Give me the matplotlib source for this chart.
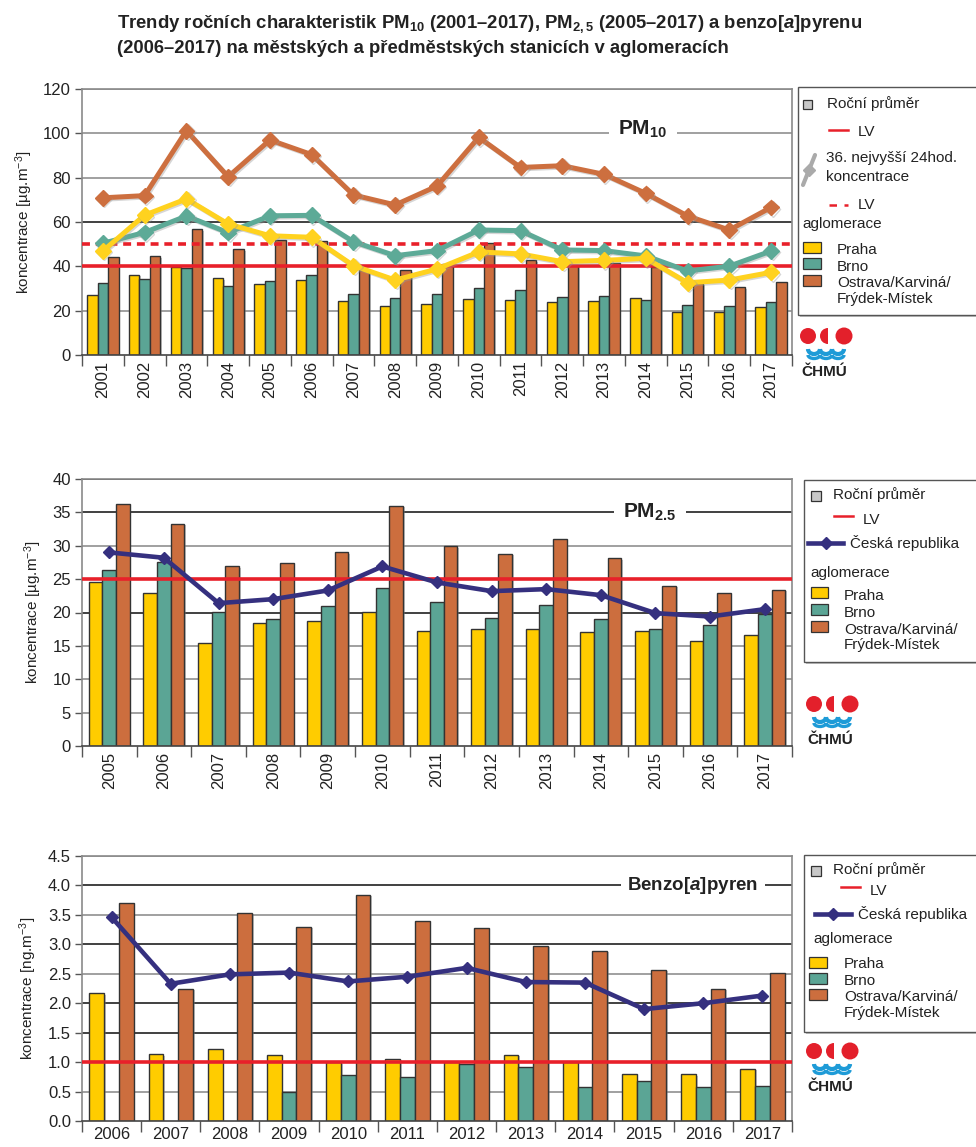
import numpy as np
import matplotlib
matplotlib.use("Agg")
import matplotlib.pyplot as plt
from matplotlib import font_manager
from matplotlib.patches import Rectangle, Circle, Wedge, Arc
from matplotlib.lines import Line2D
import matplotlib.patheffects as pe

# ---------------- data ----------------
years_pm10 = [str(y) for y in range(2001, 2018)]
pm10_avg_praha = [27, 36.2, 39.8, 34.6, 31.9, 34, 24.4, 22, 23, 25.1, 24.6, 24.1, 24.4, 25.6, 19.2, 19.2, 21.5]
pm10_avg_brno = [32.3, 34.1, 39.1, 31.1, 33.4, 35.9, 27.7, 25.9, 27.4, 30.2, 29.3, 26.2, 26.5, 24.6, 22.4, 21.9, 23.8]
pm10_avg_ostrava = [44, 44.5, 56.7, 47.7, 51.7, 51.5, 38.3, 38.2, 40.9, 50.4, 42.7, 40.6, 41.6, 39.8, 32.3, 30.5, 32.8]
pm10_36_praha = [46.9, 63.1, 70.4, 59.1, 53.8, 53.1, 40.3, 33.8, 38.8, 46.5, 45.6, 42.1, 42.7, 43.6, 32.6, 33.8, 37.3]
pm10_36_brno = [50.4, 55.3, 62.7, 55.2, 62.8, 63, 51.1, 44.8, 47.1, 56.4, 56.1, 47.4, 47.1, 44.7, 37.9, 40.1, 46.9]
pm10_36_ostrava = [70.9, 71.9, 101.2, 80.4, 97, 90.4, 72.2, 67.7, 76.2, 98.2, 84.6, 85.4, 81.5, 72.9, 62.7, 56.4, 66.6]
pm10_lv_annual = 40
pm10_lv_24h = 50

years_pm25 = [str(y) for y in range(2005, 2018)]
pm25_praha = [24.5, 22.9, 15.4, 18.4, 18.8, 20.1, 17.3, 17.5, 17.6, 17.1, 17.2, 15.8, 16.6]
pm25_brno = [26.3, 27.5, 20.1, 19.0, 20.9, 23.7, 21.5, 19.2, 21.1, 19.0, 17.6, 18.1, 19.8]
pm25_ostrava = [36.3, 33.3, 26.9, 27.4, 29.0, 36.0, 29.9, 28.8, 31.0, 28.1, 24.0, 22.9, 23.4]
pm25_cr = [29.0, 28.2, 21.4, 22.0, 23.3, 26.9, 24.5, 23.2, 23.5, 22.6, 19.9, 19.4, 20.5]
pm25_lv = 25

years_bap = [str(y) for y in range(2006, 2018)]
bap_praha = [2.17, 1.13, 1.22, 1.12, 1.0, 1.06, 1.0, 1.12, 1.0, 0.79, 0.79, 0.89]
bap_brno = [np.nan, np.nan, np.nan, 0.50, 0.78, 0.74, 0.97, 0.91, 0.57, 0.68, 0.58, 0.60]
bap_ostrava = [3.70, 2.24, 3.54, 3.30, 3.84, 3.40, 3.28, 2.97, 2.89, 2.57, 2.25, 2.52]
bap_cr = [3.46, 2.33, 2.49, 2.52, 2.37, 2.45, 2.60, 2.36, 2.35, 1.90, 2.00, 2.13]
bap_lv = 1.0

# ---------------- style ----------------
C_PRAHA = "#FFCC00"
C_BRNO = "#5BA595"
C_OSTR = "#CC6E3E"
C_PRAHA_L = "#FFD21F"
C_BRNO_L = "#5DAA97"
C_OSTR_L = "#CD6F3F"
C_CR = "#35307F"
C_RED = "#E8202A"
C_GRAY = "#A0A0A0"
C_DARK = "#404040"

def has_font(name):
    try:
        font_manager.findfont(font_manager.FontProperties(family=name), fallback_to_default=False)
        return True
    except Exception:
        return False

BASE = "Liberation Sans" if has_font("Liberation Sans") else "DejaVu Sans"
NARROW = "Liberation Sans Narrow" if has_font("Liberation Sans Narrow") else BASE

plt.rcParams["font.family"] = [BASE, "DejaVu Sans"]
plt.rcParams["mathtext.fontset"] = "custom"
plt.rcParams["mathtext.rm"] = BASE
plt.rcParams["mathtext.bf"] = BASE + ":bold"
plt.rcParams["mathtext.it"] = BASE + ":italic:bold"
plt.rcParams["axes.unicode_minus"] = False

W, H = 976, 1147
fig = plt.figure(figsize=(W / 100, H / 100), dpi=100)
fig.patch.set_facecolor("white")

def ax_px(left, top, right, bottom):
    return fig.add_axes([left / W, 1 - bottom / H, (right - left) / W, (bottom - top) / H])

bar_shadow = [pe.SimplePatchShadow(offset=(1.2, -1.0), shadow_rgbFace="#808080", alpha=0.45), pe.Normal()]

def setup_axis(ax, n, ymax, ystep, grid_dark, rotate, ylabel, fmt):
    ax.set_xlim(-0.5, n - 0.5)
    ax.set_ylim(0, ymax)
    ticks = np.arange(0, ymax + ystep / 2, ystep)
    ax.set_yticks(ticks)
    ax.set_yticklabels([fmt.format(t) for t in ticks], fontsize=12, color="#222222")
    for t in ticks[1:]:
        col = C_DARK if any(abs(t - d) < 1e-9 for d in grid_dark) else C_GRAY
        ax.axhline(t, color=col, lw=1.4, zorder=0.5)
    ax.set_xticks(np.arange(n))
    ax.tick_params(axis="x", which="major", length=0, pad=4)
    ax.set_xticks(np.arange(-0.5, n, 1.0), minor=True)
    ax.tick_params(axis="x", which="minor", length=8, width=1.0, color="#555555", direction="out")
    ax.tick_params(axis="y", length=5, width=1.0, color="#555555", pad=3)
    for s in ["left", "top", "right"]:
        ax.spines[s].set_color("#8a8a8a")
        ax.spines[s].set_linewidth(1.2)
    ax.spines["bottom"].set_color("#444444")
    ax.spines["bottom"].set_linewidth(1.2)
    ax.set_ylabel(ylabel, fontsize=11, color="#222222", labelpad=6)

def bars(ax, praha, brno, ostrava):
    x = np.arange(len(praha))
    w = 0.25
    for off, vals, col in [(-w, praha, C_PRAHA), (0, brno, C_BRNO), (w, ostrava, C_OSTR)]:
        bc = ax.bar(x + off, vals, width=w, color=col, edgecolor="#333333", linewidth=1.0, zorder=2)
        for p in bc:
            p.set_path_effects(bar_shadow)

# ---------------- chart 1: PM10 ----------------
ax1 = ax_px(82, 89, 792, 355)
setup_axis(ax1, len(years_pm10), 120, 20, [60], True, r"koncentrace [µg.m$^{-3}$]", "{:.0f}")
ax1.set_xticklabels(years_pm10, rotation=90, fontsize=12, color="#222222")
bars(ax1, pm10_avg_praha, pm10_avg_brno, pm10_avg_ostrava)
ax1.axhline(pm10_lv_annual, color=C_RED, lw=2.6, zorder=3)
ax1.axhline(pm10_lv_24h, color=C_RED, lw=2.6, ls=(0, (2.2, 1.6)), zorder=3)
xs = np.arange(len(years_pm10))
line_shadow = [pe.SimpleLineShadow(offset=(1, -1), shadow_color="#999999", alpha=0.4), pe.Normal()]
for vals, col in [(pm10_36_ostrava, C_OSTR_L), (pm10_36_brno, C_BRNO_L), (pm10_36_praha, C_PRAHA_L)]:
    ax1.plot(xs, vals, color=col, lw=3.6, marker="D", ms=8, mec=col, mfc=col, zorder=4,
             path_effects=line_shadow)
ax1.text(0.79, 102, r"PM$_{\mathbf{10}}$", transform=ax1.get_yaxis_transform(), ha="center", va="center",
         fontsize=15, fontweight="bold", color="#222222", zorder=6,
         bbox=dict(boxstyle="square,pad=0.45", fc="white", ec="none"))

# ---------------- chart 2: PM2.5 ----------------
ax2 = ax_px(82, 479, 792, 746)
setup_axis(ax2, len(years_pm25), 40, 5, [20, 35, 40], True, r"koncentrace [µg.m$^{-3}$]", "{:.0f}")
ax2.set_xticklabels(years_pm25, rotation=90, fontsize=12, color="#222222")
bars(ax2, pm25_praha, pm25_brno, pm25_ostrava)
ax2.axhline(pm25_lv, color=C_RED, lw=2.6, zorder=3)
xs2 = np.arange(len(years_pm25))
ax2.plot(xs2, pm25_cr, color=C_CR, lw=3.3, marker="D", ms=6, mec=C_CR, mfc=C_CR, zorder=4)
ax2.text(0.80, 35, r"PM$_{\mathbf{2.5}}$", transform=ax2.get_yaxis_transform(), ha="center", va="center",
         fontsize=15, fontweight="bold", color="#222222", zorder=6,
         bbox=dict(boxstyle="square,pad=0.45", fc="white", ec="none"))

# ---------------- chart 3: BaP ----------------
ax3 = ax_px(82, 856, 792, 1121)
setup_axis(ax3, len(years_bap), 4.5, 0.5, [1.5, 2.0, 3.0, 4.0], False, r"koncentrace [ng.m$^{-3}$]", "{:.1f}")
ax3.set_xticklabels(years_bap, fontsize=12, color="#222222")
bars(ax3, bap_praha, bap_brno, bap_ostrava)
ax3.axhline(bap_lv, color=C_RED, lw=2.6, zorder=3)
xs3 = np.arange(len(years_bap))
ax3.plot(xs3, bap_cr, color=C_CR, lw=3.3, marker="D", ms=6, mec=C_CR, mfc=C_CR, zorder=4)
ax3.text(0.86, 4.0, r"Benzo[$a$]pyren", transform=ax3.get_yaxis_transform(), ha="center", va="center",
         fontsize=13.5, fontweight="bold", color="#222222", zorder=6,
         bbox=dict(boxstyle="square,pad=0.35", fc="white", ec="none"))

# ---------------- title ----------------
tfs = 14.5 if NARROW != BASE else 13.3
fig.text(117 / W, 1 - 28 / H,
         r"Trendy ročních charakteristik PM$_{\mathbf{10}}$ (2001–2017), PM$_{\mathbf{2,5}}$ (2005–2017) a benzo[$a$]pyrenu",
         fontsize=tfs, fontweight="bold", family=[NARROW, "DejaVu Sans"], color="#222222", va="baseline")
fig.text(117 / W, 1 - 53 / H,
         "(2006–2017) na městských a předměstských stanicích v aglomeracích",
         fontsize=tfs, fontweight="bold", family=[NARROW, "DejaVu Sans"], color="#222222", va="baseline")

# ---------------- overlay for legends & logos (pixel coords) ----------------
ov = fig.add_axes([0, 0, 1, 1], zorder=10)
ov.set_xlim(0, W)
ov.set_ylim(H, 0)
ov.axis("off")
ov.patch.set_alpha(0)

LFS = 11

def box(x0, y0, x1, y1):
    ov.add_patch(Rectangle((x0, y0), x1 - x0, y1 - y0, fc="white", ec="#555555", lw=1.0,
                           path_effects=[pe.SimplePatchShadow(offset=(1.5, -1.5), shadow_rgbFace="#999999", alpha=0.6), pe.Normal()]))

def sq(x0, y0, x1, y1, col):
    ov.add_patch(Rectangle((x0, y0), x1 - x0, y1 - y0, fc=col, ec="#333333", lw=0.9))

def txt(x, y, s):
    ov.text(x, y, s, fontsize=LFS, va="center", ha="left", color="#222222")

# legend 1
box(798, 87, 985, 315)
sq(803, 100, 812, 109, "#C8C8C8"); txt(827, 104, "Roční průměr")
ov.plot([829, 848], [130, 130], color=C_RED, lw=1.8); txt(858, 132, "LV")
ov.plot([815, 803], [155, 185], color="#AAAAAA", lw=3, solid_capstyle="round")
ov.plot([809], [170], marker="D", ms=6, color="#AAAAAA")
txt(826, 158, "36. nejvyšší 24hod."); txt(826, 177, "koncentrace")
ov.plot([829, 848], [205, 205], color=C_RED, lw=1.8, ls=(0, (3, 3))); txt(858, 205, "LV")
txt(802, 224, "aglomerace")
sq(803, 242, 821, 253, C_PRAHA); txt(837, 250, "Praha")
sq(803, 258, 821, 269, C_BRNO); txt(837, 267, "Brno")
sq(803, 275, 821, 286, C_OSTR); txt(837, 283, "Ostrava/Karviná/"); txt(837, 299, "Frýdek-Místek")

# legend 2
box(804, 480, 985, 662)
sq(811, 491, 821, 501, "#C8C8C8"); txt(833, 495, "Roční průměr")
ov.plot([834, 853], [516, 516], color=C_RED, lw=1.8); txt(863, 520, "LV")
ov.plot([808, 843], [543, 543], color=C_CR, lw=3.3)
ov.plot([826], [543], marker="D", ms=6, color=C_CR); txt(850, 543, "Česká republika")
txt(810, 573, "aglomerace")
sq(811, 587, 828, 598, C_PRAHA); txt(844, 596, "Praha")
sq(811, 604, 828, 615, C_BRNO); txt(844, 613, "Brno")
sq(811, 621, 828, 632, C_OSTR); txt(844, 630, "Ostrava/Karviná/"); txt(844, 645, "Frýdek-Místek")

# legend 3
box(804, 855, 985, 1032)
sq(811, 866, 821, 876, "#C8C8C8"); txt(833, 870, "Roční průměr")
ov.plot([841, 860], [887, 887], color=C_RED, lw=1.8); txt(870, 891, "LV")
ov.plot([815, 851], [914, 914], color=C_CR, lw=3.3)
ov.plot([833], [914], marker="D", ms=6, color=C_CR); txt(858, 914, "Česká republika")
txt(813, 939, "aglomerace")
sq(809, 957, 827, 968, C_PRAHA); txt(844, 964, "Praha")
sq(809, 973, 827, 984, C_BRNO); txt(844, 981, "Brno")
sq(809, 989, 827, 1000, C_OSTR); txt(844, 997, "Ostrava/Karviná/"); txt(844, 1013, "Frýdek-Místek")

def logo(x0, yc):
    red = "#E3202B"
    blue = "#1E9BD7"
    ov.add_patch(Circle((x0 + 8, yc), 8, fc=red, ec="none"))
    ov.add_patch(Wedge((x0 + 28, yc), 8, 90, 270, fc=red, ec="none"))
    ov.add_patch(Circle((x0 + 44, yc), 8.5, fc=red, ec="none"))
    for cx in [x0 + 14, x0 + 26, x0 + 38]:
        ov.add_patch(Arc((cx, yc + 13), 12, 10, theta1=0, theta2=180, color=blue, lw=3.0))
        ov.add_patch(Arc((cx, yc + 19), 12, 7, theta1=0, theta2=180, color=blue, lw=2.4))
    ov.text(x0 + 1, yc + 36, "ČHMÚ", fontsize=11, fontweight="bold", color="#222222", va="center", ha="left")

logo(800, 336)
logo(806, 704)
logo(806, 1051)

fig.savefig("out.png", dpi=100, facecolor="white")
